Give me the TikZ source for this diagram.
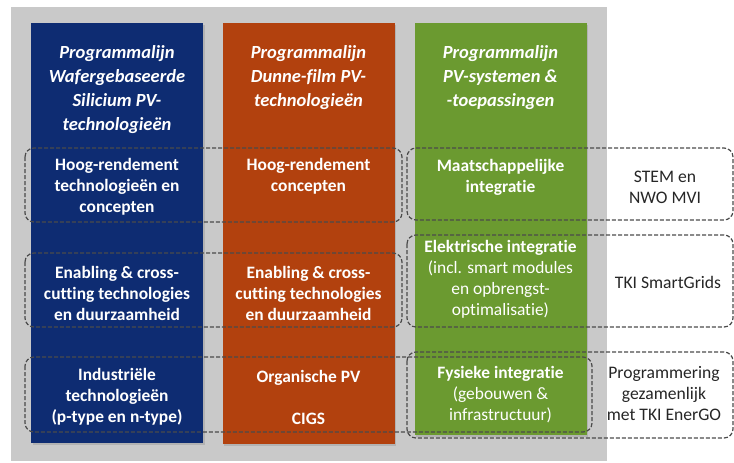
\documentclass[tikz,border=0pt]{standalone}
\usepackage{fontspec}
\setmainfont{Carlito}[Ligatures=NoCommon]
\usetikzlibrary{shadows}
\definecolor{LijnBlauw}{RGB}{14,44,114}
\definecolor{LijnOranje}{RGB}{178,65,14}
\definecolor{LijnGroen}{RGB}{107,154,48}
\definecolor{VlakGrijs}{RGB}{201,201,201}
\definecolor{StreepGrijs}{RGB}{75,75,75}

\begin{document}
\begin{tikzpicture}[x=1pt,y=-1pt,
  kolom/.style n args={2}{rectangle,fill=#1,minimum width=172pt,minimum height=#2pt,anchor=north,inner sep=0pt,
     drop shadow={shadow xshift=1.5pt,shadow yshift=-1.5pt,opacity=0.3}},
  kop/.style={text=white,font=\fontsize{18.5}{24}\selectfont\bfseries\itshape,align=center,anchor=north},
  cel/.style={text=white,font=\fontsize{17.4}{21}\selectfont\bfseries,align=center},
  los/.style={text=black!85,font=\fontsize{17.6}{21}\selectfont,align=center},
  grp/.style={draw=StreepGrijs,dash pattern=on 4pt off 2pt,line width=1.2pt,rounded corners=9pt}]
\useasboundingbox (0,0) rectangle (734,463);
\fill[VlakGrijs] (11,7) rectangle (607,461);
% de drie programmalijnen
\node[kolom={LijnBlauw}{420}](blauw) at (117,23) {};
\node[kolom={LijnOranje}{421}](oranje) at (308.5,23) {};
\node[kolom={LijnGroen}{412}](groen) at (500.5,23) {};
\node[kop](kopBlauw) at (117,42) {Programmalijn\\Wafergebaseerde\\Silicium PV-\\technologieën};
\node[kop](kopOranje) at (308.5,42) {Programmalijn\\Dunne-film PV-\\technologieën};
\node[kop](kopGroen) at (500.5,42) {Programmalijn\\PV-systemen \&\\-toepassingen};
% rij 1
\node[cel](b1) at (117,187) {Hoog-rendement\\technologieën en\\concepten};
\node[cel](o1) at (308.5,176) {Hoog-rendement\\concepten};
\node[cel](g1) at (500.5,177) {Maatschappelijke\\integratie};
\node[los](r1) at (665,187) {STEM en\\NWO MVI};
% rij 2
\node[cel](b2) at (117,293) {Enabling \& cross-\\cutting technologies\\en duurzaamheid};
\node[cel](o2) at (308.5,293) {Enabling \& cross-\\cutting technologies\\en duurzaamheid};
\node[cel](g2) at (500.5,279) {Elektrische integratie\\\textmd{(incl. smart modules}\\\textmd{en opbrengst-}\\\textmd{optimalisatie)}};
\node[los](r2) at (668,282) {TKI SmartGrids};
% rij 3
\node[cel](b3) at (117,397) {Industriële\\technologieën\\(p-type en n-type)};
\node[cel](o3) at (308.5,397) {Organische PV\\[21pt]CIGS};
\node[cel](g3) at (500.5,395) {Fysieke integratie\\\textmd{(gebouwen \&}\\\textmd{infrastructuur)}};
\node[los](r3) at (664,394) {Programmering\\gezamenlijk\\met TKI EnerGO};
% gestippelde groeperingen
\draw[grp] (25,148) rectangle (402,222);
\draw[grp] (407,148) rectangle (733,220);
\draw[grp] (25,253) rectangle (402,327);
\draw[grp] (407,235) rectangle (733,327);
\draw[grp] (25,357) rectangle (592,432);
\draw[grp] (407,352) rectangle (733,438);
\end{tikzpicture}
\end{document}
